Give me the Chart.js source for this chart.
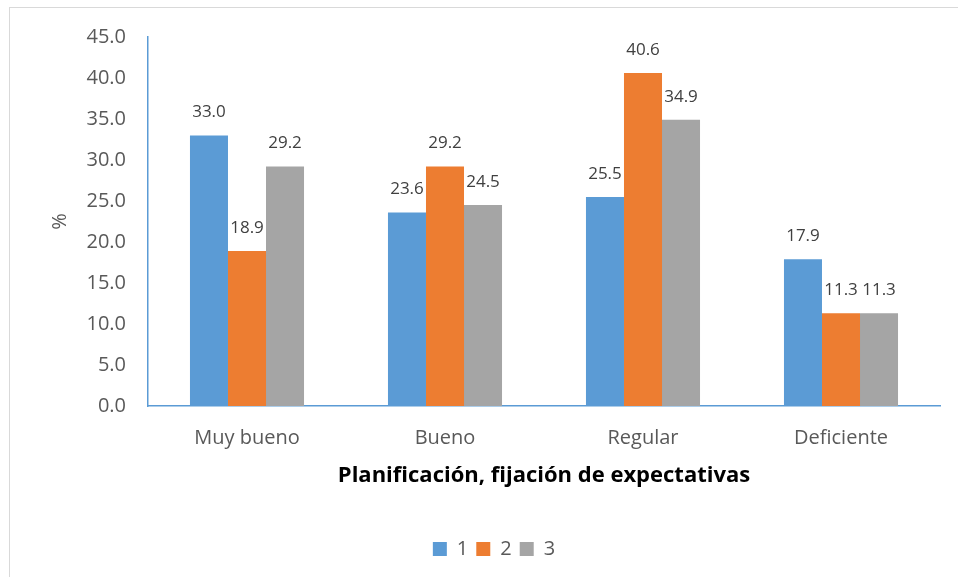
<!DOCTYPE html>
<html>
<head>
<meta charset="utf-8">
<script src="https://cdn.jsdelivr.net/npm/chart.js@4.4.1/dist/chart.umd.min.js"></script>
<style>
  html, body { margin: 0; padding: 0; background: #fff; }
  #wrap { width: 958px; height: 577px; }
</style>
</head>
<body>
<div id="wrap"><canvas id="chart" width="958" height="577"></canvas></div>
<script>
const categories = ['Muy bueno', 'Bueno', 'Regular', 'Deficiente'];
const serie1 = [33.0, 23.6, 25.5, 17.9];
const serie2 = [18.9, 29.2, 40.6, 11.3];
const serie3 = [29.2, 24.5, 34.9, 11.3];
const seriesNames = ['1', '2', '3'];

const FONT = "'Open Sans', sans-serif";

// light frame around the whole chart
const framePlugin = {
  id: 'frame',
  beforeDraw(chart) {
    const ctx = chart.ctx;
    ctx.save();
    ctx.fillStyle = '#fff';
    ctx.fillRect(0, 0, chart.width, chart.height);
    ctx.strokeStyle = '#d9d9d9';
    ctx.lineWidth = 1;
    ctx.strokeRect(9.5, 7.5, chart.width + 20, chart.height + 20);
    ctx.restore();
  }
};

// value labels above each bar
const valueLabels = {
  id: 'valueLabels',
  afterDatasetsDraw(chart) {
    const ctx = chart.ctx;
    ctx.save();
    ctx.font = '17px ' + FONT;
    ctx.fillStyle = '#404040';
    ctx.textAlign = 'center';
    ctx.textBaseline = 'middle';
    chart.data.datasets.forEach((ds, i) => {
      chart.getDatasetMeta(i).data.forEach((bar, j) => {
        ctx.fillText(ds.data[j].toFixed(1), bar.x, bar.y - 23);
      });
    });
    ctx.restore();
  }
};

new Chart(document.getElementById('chart'), {
  type: 'bar',
  data: {
    labels: categories,
    datasets: [
      { label: seriesNames[0], data: serie1, backgroundColor: '#5B9BD5' },
      { label: seriesNames[1], data: serie2, backgroundColor: '#ED7D31' },
      { label: seriesNames[2], data: serie3, backgroundColor: '#A5A5A5' }
    ]
  },
  options: {
    responsive: false,
    animation: false,
    devicePixelRatio: 1,
    layout: { padding: { left: 48, right: 18, top: 37, bottom: 8 } },
    datasets: { bar: { categoryPercentage: 0.576, barPercentage: 1 } },
    plugins: {
      tooltip: { enabled: false },
      legend: {
        position: 'bottom',
        labels: {
          font: { family: FONT, size: 20 },
          color: '#595959',
          boxWidth: 14,
          boxHeight: 14,
          padding: 8
        }
      }
    },
    scales: {
      x: {
        grid: { display: false, drawTicks: false },
        border: { color: '#5B9BD5', width: 1.5 },
        ticks: { font: { family: FONT, size: 20 }, color: '#595959', padding: 20 },
        title: {
          display: true,
          text: 'Planificación, fijación de expectativas',
          font: { family: FONT, size: 22, weight: 'bold' },
          color: '#000',
          padding: { top: 0, bottom: 42 }
        },
        afterFit(scale) { scale.height = 125; }
      },
      y: {
        min: 0,
        max: 45,
        grid: { display: false, drawTicks: false },
        border: { color: '#5B9BD5', width: 1.5 },
        ticks: {
          stepSize: 5,
          font: { family: FONT, size: 20 },
          color: '#595959',
          padding: 22,
          callback: v => v.toFixed(1)
        },
        title: {
          display: true,
          text: '%',
          font: { family: FONT, size: 20 },
          color: '#595959',
          padding: { top: 0, bottom: 0 }
        },
        afterFit(scale) { scale.width = 100; }
      }
    }
  },
  plugins: [framePlugin, valueLabels]
});
</script>
</body>
</html>
